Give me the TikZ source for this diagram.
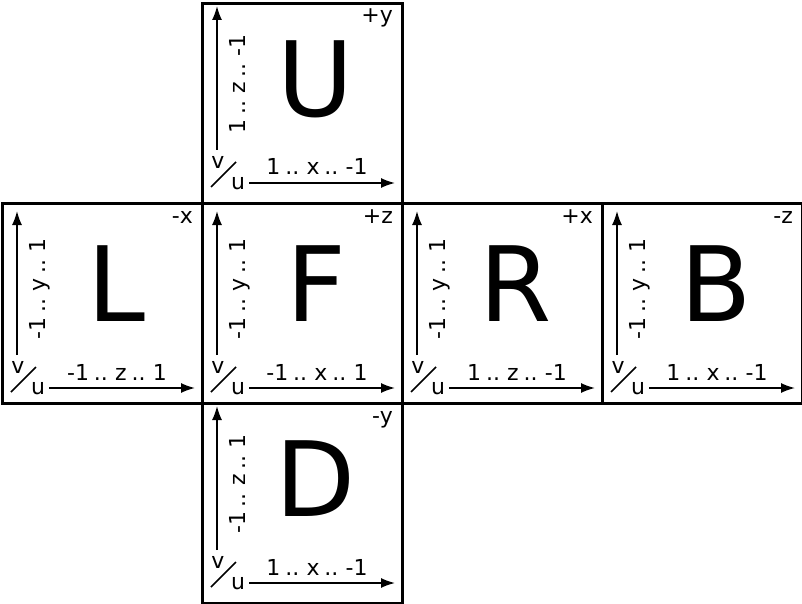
\documentclass[tikz,border=0pt]{standalone}
\usepackage{fontspec}
\setmainfont{DejaVu Sans}
\newfontfamily\labelfont[WordSpace=0.7]{DejaVu Sans}
\usetikzlibrary{arrows.meta}

\begin{document}
\begin{tikzpicture}[x=1pt,y=-1pt,
        face/.style={draw, line width=2.8pt, minimum size=200pt, inner sep=0pt, anchor=north west},
        bigletter/.style={font=\fontsize{104}{110}\selectfont, inner sep=0pt},
        small/.style={font=\labelfont\fontsize{22}{25}\selectfont, inner sep=0pt},
        axis/.style={line width=1.6pt, -{Latex[length=14pt,width=10pt]}}]
            \useasboundingbox (0,0) rectangle (802,604);
            \foreach \f/\px/\py/\s/\sg/\ul/\vl in {
                U/201/2/-5/+y/{1 .. x .. -1}/{1 .. z .. -1},
                L/1/202/0/-x/{-1 .. z .. 1}/{-1 .. y .. 1},
                F/201/202/0/+z/{-1 .. x .. 1}/{-1 .. y .. 1},
                R/401/202/0/+x/{1 .. z .. -1}/{-1 .. y .. 1},
                B/601/202/0/-z/{1 .. x .. -1}/{-1 .. y .. 1},
                D/201/402/-5/-y/{1 .. x .. -1}/{-1 .. z .. 1}}{
                \node [face] (\f-box) at (\px,\py) {};
                \node [small, anchor=base east] (\f-sign) at (\px+192,\py+21) {\sg};
                \begin{scope}[shift={(\px,\py+\s)}]
                    \node [bigletter] (\f-letter) at (115,82) {\f};
                    \coordinate (\f-v0) at (16,153);
                    \coordinate (\f-v1) at (16,9);
                    \coordinate (\f-u0) at (48,186);
                    \coordinate (\f-u1) at (194,186);
                    \draw [axis] (\f-v0) -- (\f-v1);
                    \draw [axis] (\f-u0) -- (\f-u1);
                    \node [small, rotate=90, anchor=base] (\f-vrange) at (44,87) {\vl};
                    \node [small, anchor=base] (\f-urange) at (116,178) {\ul};
                    \node [small] (\f-v) at (17,165) {v};
                    \node [small] (\f-u) at (37,186) {u};
                    \coordinate (\f-s0) at (10,190);
                    \coordinate (\f-s1) at (35,165);
                    \draw [line width=1.6pt] (\f-s0) -- (\f-s1);
                \end{scope}
            }
        \end{tikzpicture}
\end{document}
